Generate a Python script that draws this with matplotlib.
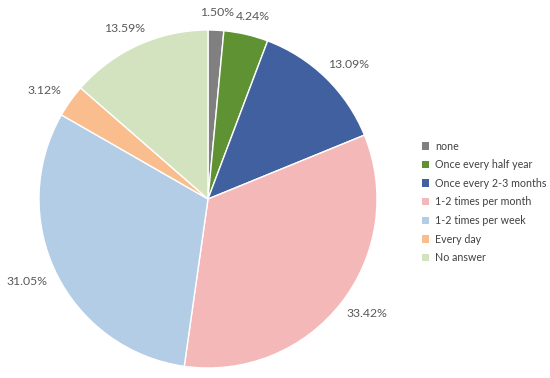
import numpy as np
import matplotlib
matplotlib.use('Agg')
import matplotlib.pyplot as plt
from matplotlib.patches import Patch

plt.rcParams['font.family'] = ['Lato', 'DejaVu Sans']

categories = ['none', 'Once every half year', 'Once every 2-3 months',
              '1-2 times per month', '1-2 times per week', 'Every day', 'No answer']
values = [1.50, 4.24, 13.09, 33.42, 31.05, 3.12, 13.59]
colors = ['#808080', '#5e9232', '#41609f', '#f5b8b8', '#b3cde6', '#f9bd8e', '#d4e3bf']

W, H = 550, 378
fig = plt.figure(figsize=(W / 100, H / 100), dpi=100)

cx, cy, r = 208, 199, 169
ax = fig.add_axes([(cx - r) / W, (H - cy - r) / H, 2 * r / W, 2 * r / H])
wedges, _ = ax.pie(values, colors=colors, startangle=90, counterclock=False,
                   radius=1, wedgeprops=dict(edgecolor='white', linewidth=1))
ax.set_xlim(-1, 1)
ax.set_ylim(-1, 1)
ax.set_aspect('equal')
ax.axis('off')

# labels outside the end: gap from the rim, then shift by half the text box
gap = 12 / r
hw, hh = 20 / r, 6 / r
for w, v in zip(wedges, values):
    ang = np.deg2rad((w.theta1 + w.theta2) / 2)
    c, s = np.cos(ang), np.sin(ang)
    x = (1 + gap) * c + hw * c
    y = (1 + gap) * s + hh * s
    ax.text(x, y, f'{v:.2f}%', ha='center', va='center', fontsize=8.8,
            color='#595959', clip_on=False)

handles = [Patch(facecolor=c, edgecolor='none') for c in colors]
fig.legend(handles, categories, loc='upper left', bbox_to_anchor=(412 / W, 1 - 131 / H),
           frameon=False, fontsize=7.7, labelcolor='#404040', handlelength=0.7,
           handleheight=0.7, handletextpad=0.55, labelspacing=0.71)

fig.savefig('out.png', dpi=100, facecolor='white')
